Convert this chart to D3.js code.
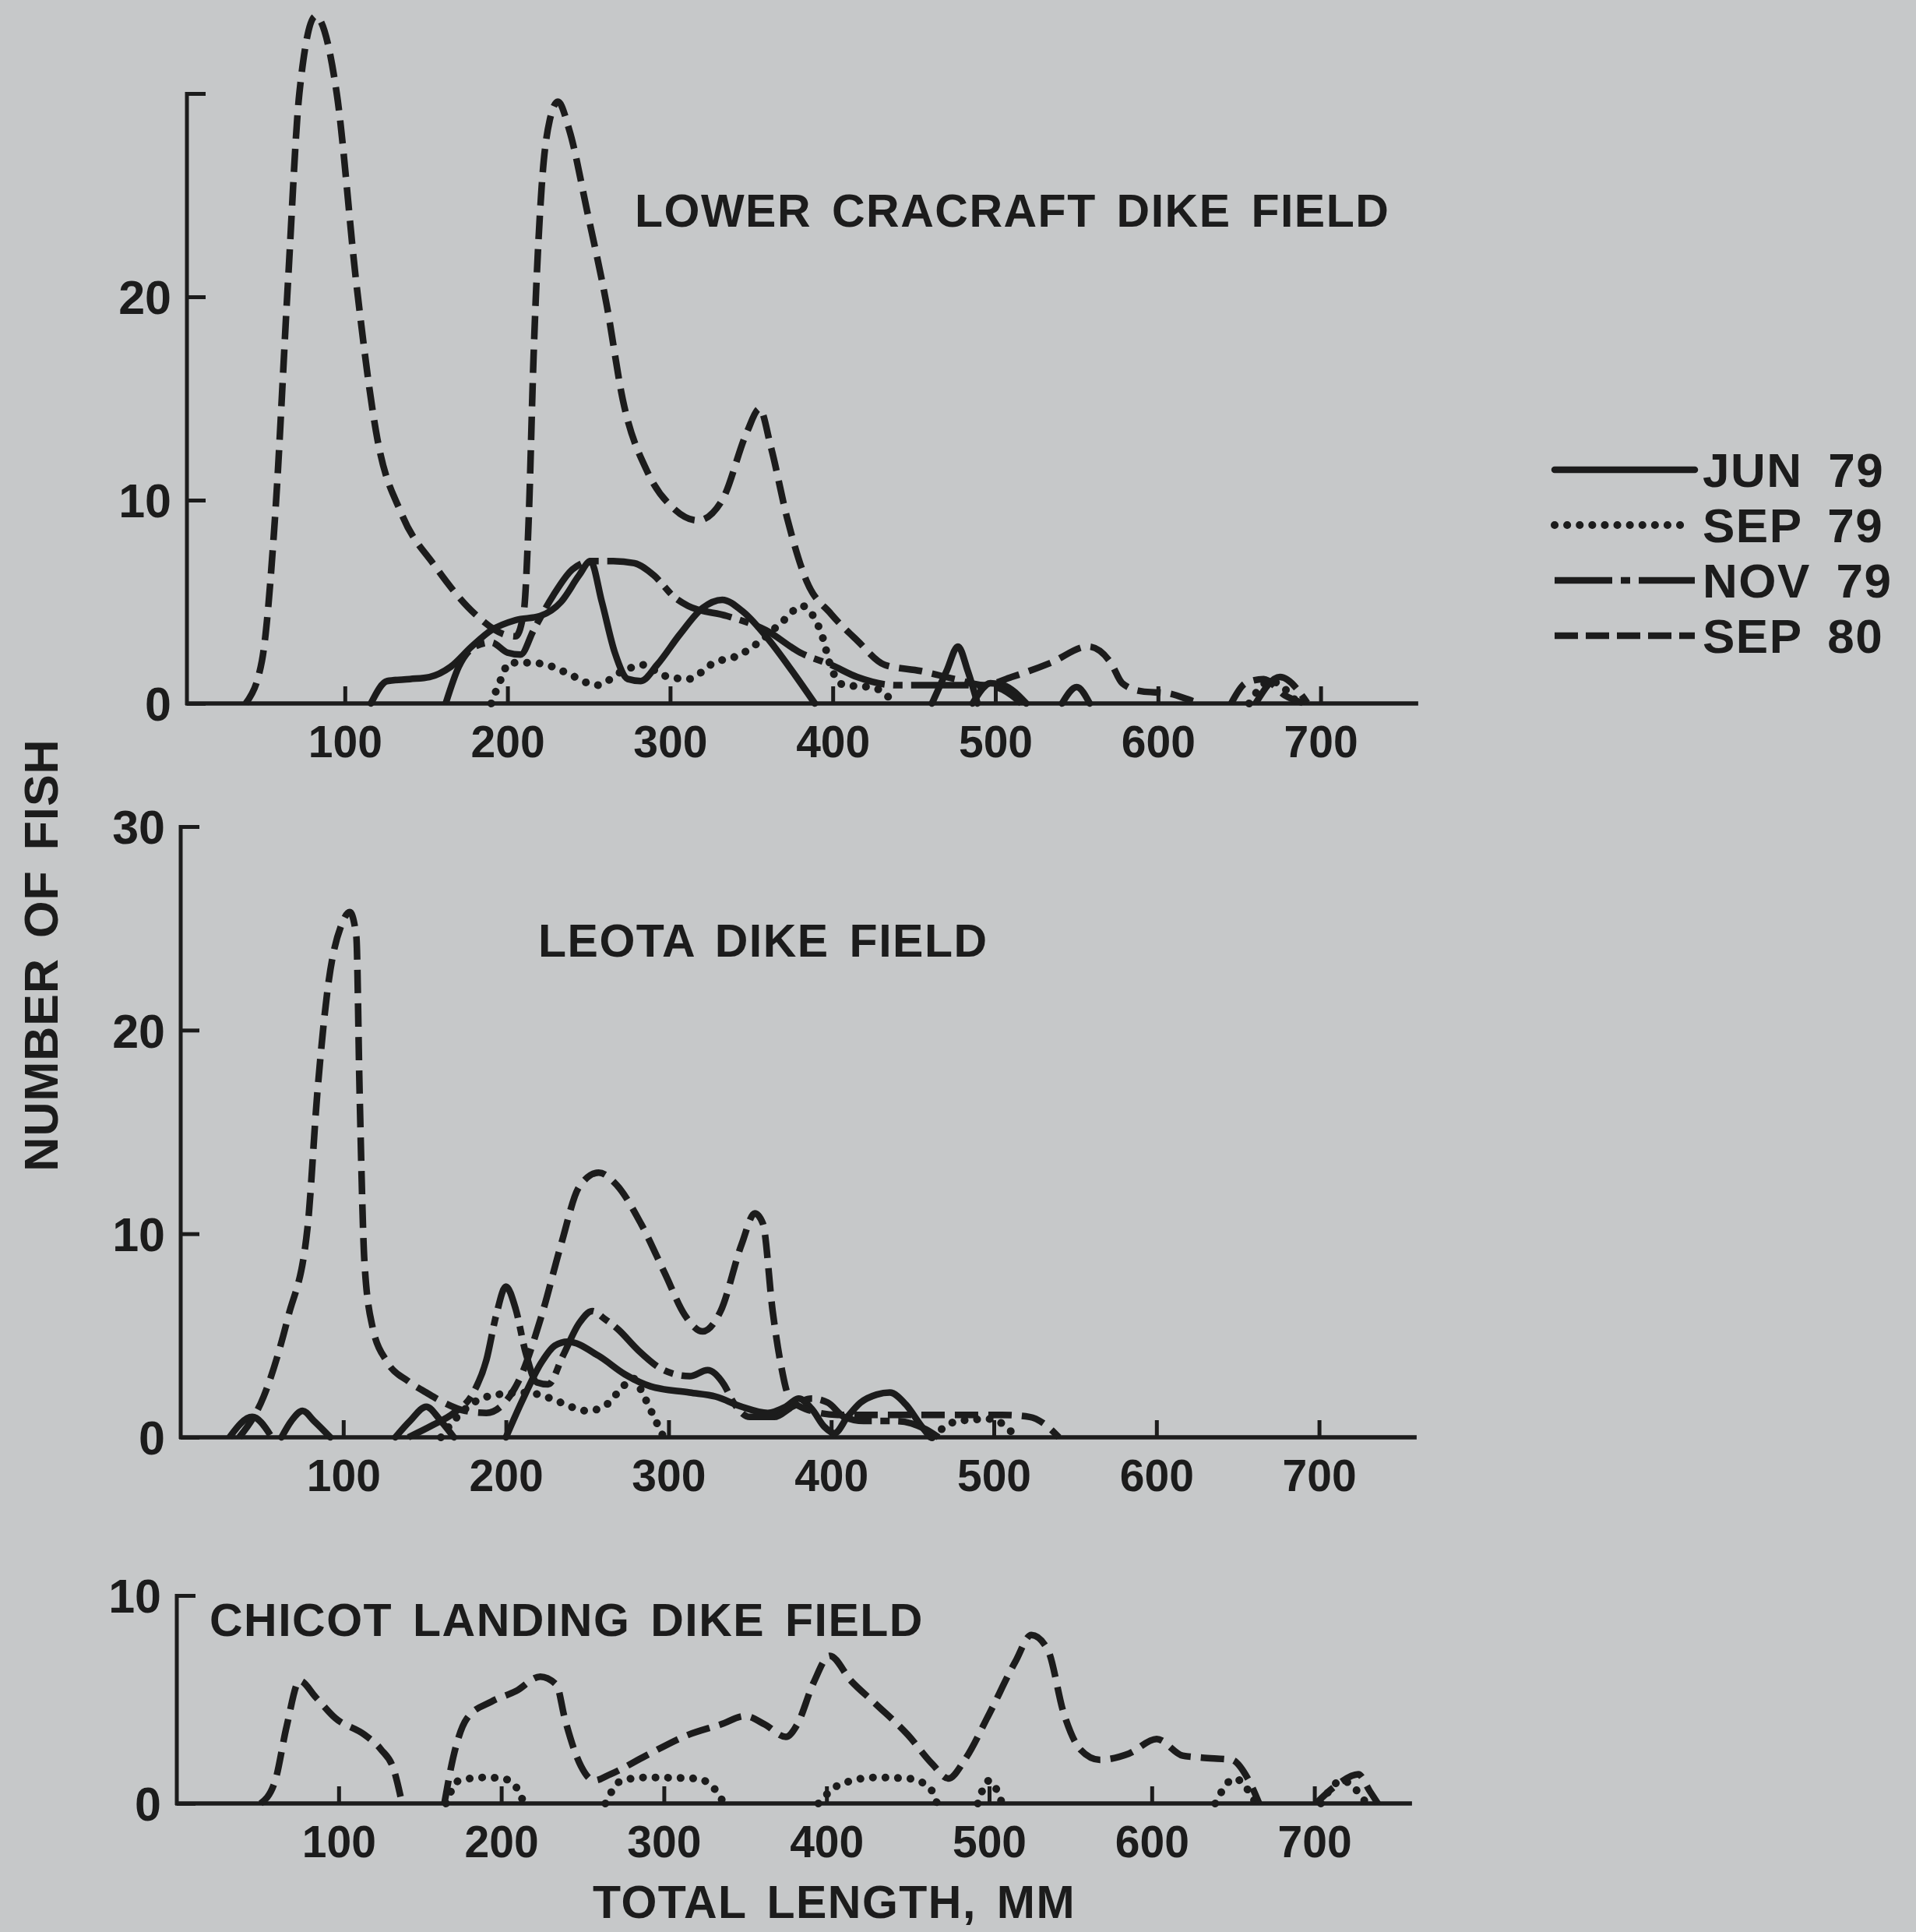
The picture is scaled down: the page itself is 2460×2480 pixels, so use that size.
<!DOCTYPE html>
<html><head><meta charset="utf-8">
<script src="https://cdn.jsdelivr.net/npm/d3@7"></script>
<style>body{margin:0;background:#c6c8c9} svg{display:block}</style>
</head><body><svg id="c" width="2460" height="2480"></svg>
<script>
// ---------------- DATA ----------------
const xTicks = [100, 200, 300, 400, 500, 600, 700];
const seriesNames = ["JUN 79", "SEP 79", "NOV 79", "SEP 80"];
const panelTitles = ["LOWER CRACRAFT DIKE FIELD", "LEOTA DIKE FIELD", "CHICOT LANDING DIKE FIELD"];
const yTicksCracraft = [0, 10, 20, 30];
const yLabelsCracraft = [0, 10, 20];
const yTicksLeota = [0, 10, 20, 30];
const yLabelsLeota = [0, 10, 20, 30];
const yTicksChicot = [0, 10];
const yLabelsChicot = [0, 10];
const xAxisTitle = "TOTAL LENGTH, MM";
const yAxisTitle = "NUMBER OF FISH";

// each series: list of segments of [total length mm, number of fish]
const jun79Cracraft = [
  [[116,0],[126,1.1],[140,1.2],[152,1.3],[165,1.8],[178,2.8],[190,3.6],[205,4.1],[220,4.3],[233,5.0],[244,6.3],[251,7.0],[258,5.0],[266,2.5],[274,1.2],[282,1.1],[292,1.9],[306,3.4],[320,4.7],[332,5.1],[345,4.5],[360,3.2],[375,1.6],[389,0]],
  [[461,0],[470,1.6],[477,2.8],[483,1.6],[489,0]],
  [[486,0],[497,1.0],[505,0.9],[519,0]],
  [[541,0],[550,0.8],[558,0]]
];
const sep79Cracraft = [
  [[190,0],[196,1.2],[201,2.0],[215,2.0],[228,1.8],[239,1.4],[255,0.9],[271,1.6],[284,1.9],[295,1.4],[311,1.2],[327,2.0],[343,2.4],[356,3.1],[370,4.1],[381,4.8],[388,4.3],[394,3.2],[398,2.0],[407,0.9],[423,0.8],[432,0.5],[437,0]],
  [[656,0],[669,1.1],[686,0]]
];
const nov79Cracraft = [
  [[162,0],[170,1.8],[180,2.8],[190,3.0],[200,2.5],[208,2.4],[216,3.6],[228,5.3],[240,6.6],[252,7.0],[265,7.0],[278,6.9],[290,6.3],[303,5.2],[311,4.8],[335,4.3],[359,3.6],[380,2.5],[399,1.9],[415,1.3],[439,0.9],[458,0.9],[480,0.9],[500,0.8],[510,0.4],[516,0]],
  [[660,0],[675,1.3],[692,0]]
];
const sep80Cracraft = [
  [[39,0],[49,2.1],[57,9.1],[65,20.7],[72,30],[82,33.8],[95,30],[107,20.7],[120,13],[135,9.3],[155,6.8],[180,4.4],[198,3.4],[205,3.3],[210,4.5],[213,9],[216,17],[221,25.4],[226,28.7],[231,29.6],[238,28.2],[249,24.2],[261,19.6],[271,14.9],[286,11.4],[302,9.6],[317,9.0],[332,10],[347,13.3],[355,14.5],[362,12.6],[372,9.1],[384,6.0],[399,4.4],[415,3.1],[432,1.9],[454,1.6],[475,1.2],[493,0.9],[510,1.3],[534,2.0],[557,2.8],[571,2.0],[578,1.0],[590,0.6],[606,0.5],[622,0.1],[626,0]],
  [[645,0],[654,1.0],[665,1.2],[678,0.4],[690,0]]
];

const jun79Leota = [
  [[62,0],[68,0.8],[75,1.3],[82,0.8],[92,0]],
  [[132,0],[141,0.8],[151,1.5],[160,0.8],[168,0]],
  [[200,0],[210,1.8],[222,3.7],[230,4.5],[238,4.7],[257,4.0],[273,3.1],[289,2.5],[313,2.2],[329,2.0],[345,1.5],[361,1.2],[372,1.5],[380,1.9],[388,1.4],[396,0.5],[402,0.2],[410,1.0],[418,1.7],[428,2.1],[436,2.2],[446,1.6],[455,0.6],[461,0]]
];
const sep79Leota = [
  [[160,0],[170,1.0],[180,1.7],[195,2.1],[212,2.2],[228,1.9],[240,1.5],[250,1.3],[260,1.5],[270,2.3],[278,2.9],[285,2.0],[291,1.0],[297,0]],
  [[462,0],[478,0.8],[498,0.9],[514,0]]
];
const nov79Leota = [
  [[30,0],[44,1.0],[56,0]],
  [[140,0],[155,0.6],[168,1.2],[180,2.2],[188,3.8],[194,6.0],[200,7.4],[206,6.3],[212,4.2],[219,2.7],[226,2.6],[235,4.0],[245,5.6],[253,6.2],[261,5.8],[269,5.3],[281,4.3],[297,3.3],[313,3.0],[324,3.3],[334,2.6],[340,1.7],[350,1.0],[365,1.0],[376,1.5],[388,1.9],[398,1.7],[408,1.0],[420,0.8],[440,0.8],[458,0.4],[466,0]]
];
const sep80Leota = [
  [[36,0],[51,2.0],[66,5.9],[78,10.3],[84,16.9],[91,22.4],[99,25.2],[104,25.8],[108,24.6],[110,17],[113,8.6],[118,5.4],[127,3.7],[140,2.75],[151,2.2],[162,1.7],[175,1.3],[188,1.2],[198,1.6],[208,2.8],[222,6.0],[234,9.5],[245,12.3],[257,13.0],[268,12.4],[283,10.5],[298,8.0],[310,6.0],[321,5.2],[332,6.2],[345,9.5],[353,11.0],[358,10.5],[364,6.2],[369,3.6],[374,2.0],[384,1.4],[404,1.1],[455,1.1],[505,1.1],[522,1.0],[532,0.6],[540,0]]
];

const sep79Chicot = [
  [[166,0],[174,1.1],[189,1.25],[201,1.2],[209,0.8],[214,0]],
  [[264,0],[274,1.1],[289,1.25],[320,1.2],[330,0.8],[337,0]],
  [[395,0],[408,0.9],[430,1.25],[450,1.2],[463,0.8],[468,0]],
  [[493,0],[500,1.1],[508,0]],
  [[639,0],[651,1.2],[664,0]],
  [[704,0],[717,1.1],[732,0]]
];
const sep80Chicot = [
  [[52,0],[61,1.1],[68,3.7],[76,5.9],[86,5.1],[98,4.1],[116,3.3],[126,2.6],[134,1.6],[139,0]],
  [[165,0],[171,2.4],[179,4.1],[194,4.9],[209,5.4],[224,6.1],[234,5.7],[239,4.1],[249,1.8],[257,1.1],[267,1.4],[289,2.3],[315,3.3],[335,3.8],[350,4.2],[362,3.8],[375,3.2],[382,3.8],[392,5.8],[402,7.1],[415,5.9],[430,4.8],[450,3.3],[465,1.9],[475,1.2],[485,2.1],[500,4.3],[516,6.8],[526,8.1],[536,7.4],[546,4.3],[556,2.6],[568,2.1],[586,2.4],[603,3.1],[619,2.3],[631,2.2],[649,2.1],[659,1.2],[666,0]],
  [[701,0],[714,0.9],[727,1.4],[734,0.6],[739,0]]
];

// ---------------- DRAWING ----------------
const W = 2460, H = 2480;
const ink = "#1c1c1c";
const FONT = "'Liberation Sans', Arial, Helvetica, sans-serif";
const svg = d3.select("#c");
svg.append("rect").attr("width", W).attr("height", H).attr("fill", "#c6c8c9");

const styles = {
  "JUN 79": {dash: null, cap: "round", w: 8.5},
  "SEP 79": {dash: "0.1 16", cap: "round", w: 10},
  "NOV 79": {dash: "74 11 12 11", cap: "butt", w: 8.5},
  "SEP 80": {dash: "30 13", cap: "butt", w: 8.5}
};

const panels = [
  {title: panelTitles[0], yMax: 30, yTicks: yTicksCracraft, yLabels: yLabelsCracraft,
   series: {"JUN 79": jun79Cracraft, "SEP 79": sep79Cracraft, "NOV 79": nov79Cracraft, "SEP 80": sep80Cracraft},
   L: {x0: 234, axisX: 240, yBase: 903, yTop: 120, tx: 815, ty: 291}},
  {title: panelTitles[1], yMax: 30, yTicks: yTicksLeota, yLabels: yLabelsLeota,
   series: {"JUN 79": jun79Leota, "SEP 79": sep79Leota, "NOV 79": nov79Leota, "SEP 80": sep80Leota},
   L: {x0: 232, axisX: 232, yBase: 1845, yTop: 1061, tx: 691, ty: 1228}},
  {title: panelTitles[2], yMax: 10, yTicks: yTicksChicot, yLabels: yLabelsChicot,
   series: {"SEP 79": sep79Chicot, "SEP 80": sep80Chicot},
   L: {x0: 226, axisX: 227, yBase: 2315, yTop: 2048, tx: 269, ty: 2100}}
];

const xMaxVal = 760;
panels.forEach(p => {
  const L = p.L;
  const x = d3.scaleLinear().domain([0, xMaxVal]).range([L.x0, L.x0 + xMaxVal * 2.088]);
  const y = d3.scaleLinear().domain([0, p.yMax]).range([L.yBase, L.yTop]);
  const g = svg.append("g");

  // x axis
  const xa = g.append("g").attr("transform", `translate(0,${L.yBase})`)
    .call(d3.axisBottom(x).tickValues(xTicks).tickSizeInner(-22).tickSizeOuter(0).tickPadding(0));
  xa.select(".domain").remove();
  xa.selectAll(".tick line").attr("stroke", ink).attr("stroke-width", 5);
  xa.selectAll(".tick text").attr("y", 69).attr("dy", 0).attr("fill", ink)
    .attr("font-family", FONT).attr("font-weight", "bold").attr("font-size", 57);
  g.append("line").attr("x1", L.axisX - 2).attr("x2", x(xMaxVal))
    .attr("y1", L.yBase).attr("y2", L.yBase).attr("stroke", ink).attr("stroke-width", 5.5);

  // y axis
  const ya = g.append("g").attr("transform", `translate(${L.axisX},0)`)
    .call(d3.axisLeft(y).tickValues(p.yTicks).tickSizeInner(-24).tickSizeOuter(0)
      .tickFormat(d => p.yLabels.includes(d) ? String(d) : ""));
  ya.select(".domain").remove();
  ya.selectAll(".tick line").attr("stroke", ink).attr("stroke-width", 5);
  ya.selectAll(".tick text").attr("x", -20).attr("dy", "0.36em").attr("fill", ink)
    .attr("font-family", FONT).attr("font-weight", "bold").attr("font-size", 61);
  g.append("line").attr("x1", L.axisX).attr("x2", L.axisX)
    .attr("y1", L.yBase + 2).attr("y2", y(p.yMax) - 2).attr("stroke", ink).attr("stroke-width", 5);

  // title
  g.append("text").attr("x", L.tx).attr("y", L.ty).text(p.title)
    .attr("font-family", FONT).attr("font-weight", "bold").attr("font-size", 59)
    .attr("letter-spacing", 1.5).attr("word-spacing", 8).attr("fill", ink);

  // curves
  const line = d3.line().x(d => x(d[0])).y(d => y(d[1])).curve(d3.curveMonotoneX);
  Object.entries(p.series).forEach(([name, segs]) => {
    const s = styles[name];
    segs.forEach(seg => {
      g.append("path").attr("d", line(seg)).attr("fill", "none")
        .attr("stroke", ink).attr("stroke-width", s.w)
        .attr("stroke-linecap", s.cap).attr("stroke-linejoin", "round")
        .attr("stroke-dasharray", s.dash);
    });
  });
});

// axis titles
svg.append("text").attr("transform", "translate(74,1226) rotate(-90)")
  .attr("text-anchor", "middle").text(yAxisTitle)
  .attr("font-family", FONT).attr("font-weight", "bold").attr("font-size", 61)
  .attr("letter-spacing", 1).attr("word-spacing", 8).attr("fill", ink);
svg.append("text").attr("x", 1071).attr("y", 2462).attr("text-anchor", "middle").text(xAxisTitle)
  .attr("font-family", FONT).attr("font-weight", "bold").attr("font-size", 59)
  .attr("letter-spacing", 1.5).attr("word-spacing", 8).attr("fill", ink);

// legend
const legY = d3.scalePoint().domain(seriesNames).range([603, 816]);
const leg = svg.append("g");
seriesNames.forEach(n => {
  const s = styles[n];
  const dash = n === "SEP 80" ? "30 10" : s.dash;
  leg.append("line").attr("x1", 1996).attr("x2", n === "SEP 79" ? 2166 : 2176)
    .attr("y1", legY(n)).attr("y2", legY(n))
    .attr("stroke", ink).attr("stroke-width", s.w).attr("stroke-linecap", s.cap)
    .attr("stroke-dasharray", dash);
  leg.append("text").attr("x", 2186).attr("y", legY(n) + 22).text(n)
    .attr("font-family", FONT).attr("font-weight", "bold").attr("font-size", 62)
    .attr("letter-spacing", 1.5).attr("word-spacing", 14).attr("fill", ink);
});
</script></body></html>
